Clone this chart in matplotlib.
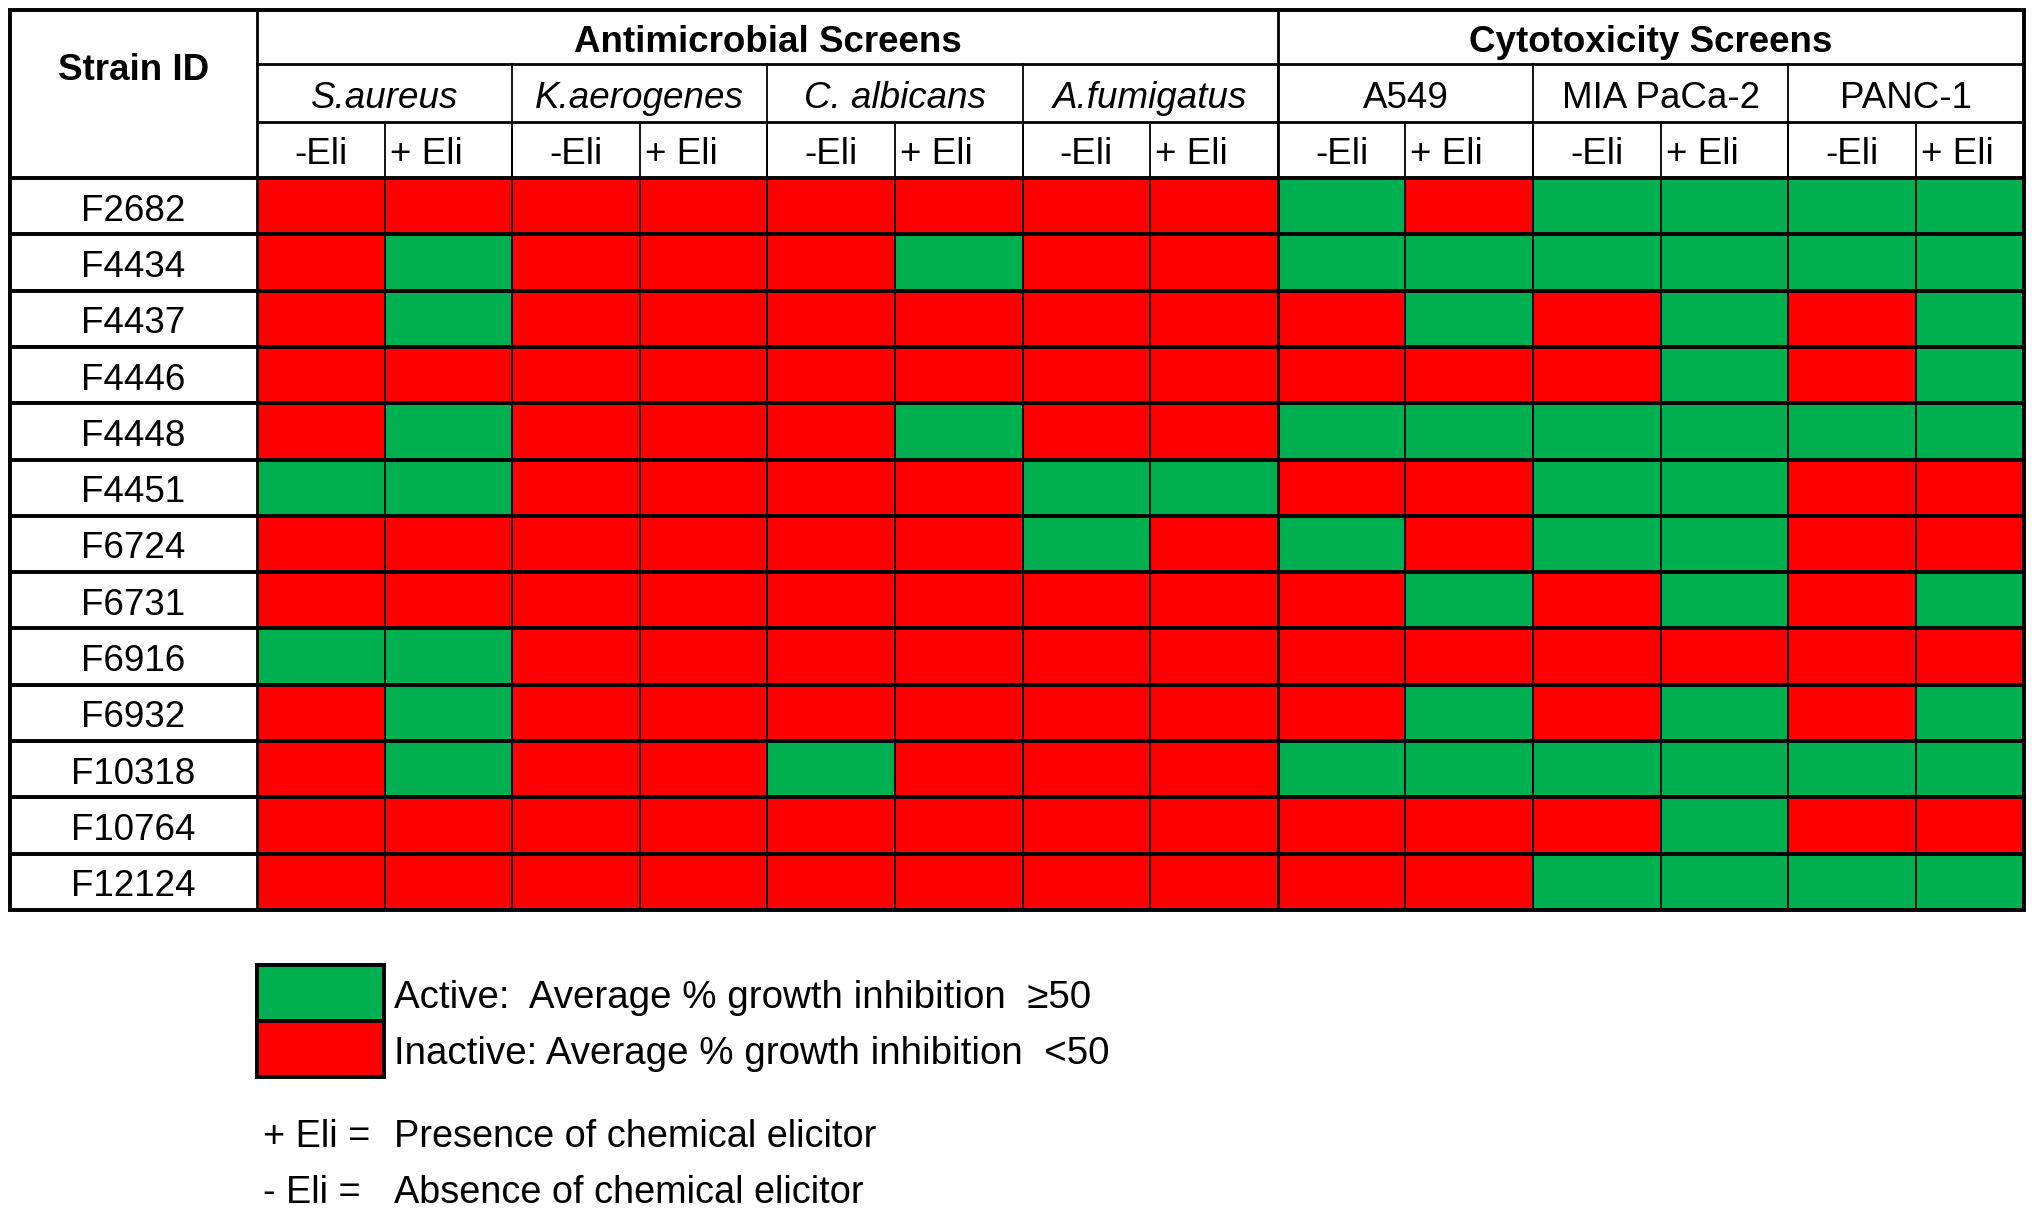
import matplotlib
matplotlib.use("Agg")
import matplotlib.pyplot as plt
from matplotlib.patches import Rectangle
import numpy as np

# ---------------- data ----------------
strains = ["F2682", "F4434", "F4437", "F4446", "F4448", "F4451", "F6724",
           "F6731", "F6916", "F6932", "F10318", "F10764", "F12124"]
groups = ["Antimicrobial Screens", "Cytotoxicity Screens"]
antimicrobial = ["S.aureus", "K.aerogenes", "C. albicans", "A.fumigatus"]
cytotoxicity = ["A549", "MIA PaCa-2", "PANC-1"]
conditions = ["-Eli", "+ Eli"]
# 1 = active (>=50 % inhibition), 0 = inactive
activity = [
    [0, 0, 0, 0, 0, 0, 0, 0, 1, 0, 1, 1, 1, 1],
    [0, 1, 0, 0, 0, 1, 0, 0, 1, 1, 1, 1, 1, 1],
    [0, 1, 0, 0, 0, 0, 0, 0, 0, 1, 0, 1, 0, 1],
    [0, 0, 0, 0, 0, 0, 0, 0, 0, 0, 0, 1, 0, 1],
    [0, 1, 0, 0, 0, 1, 0, 0, 1, 1, 1, 1, 1, 1],
    [1, 1, 0, 0, 0, 0, 1, 1, 0, 0, 1, 1, 0, 0],
    [0, 0, 0, 0, 0, 0, 1, 0, 1, 0, 1, 1, 0, 0],
    [0, 0, 0, 0, 0, 0, 0, 0, 0, 1, 0, 1, 0, 1],
    [1, 1, 0, 0, 0, 0, 0, 0, 0, 0, 0, 0, 0, 0],
    [0, 1, 0, 0, 0, 0, 0, 0, 0, 1, 0, 1, 0, 1],
    [0, 1, 0, 0, 1, 0, 0, 0, 1, 1, 1, 1, 1, 1],
    [0, 0, 0, 0, 0, 0, 0, 0, 0, 0, 0, 1, 0, 0],
    [0, 0, 0, 0, 0, 0, 0, 0, 0, 0, 1, 1, 1, 1],
]
legend_labels = ["Active:  Average % growth inhibition  \u226550",
                 "Inactive: Average % growth inhibition  <50"]
notes = [("+ Eli =", "Presence of chemical elicitor"),
         ("- Eli =", "Absence of chemical elicitor")]

GREEN = "#00B050"
RED = "#FF0000"

plt.rcParams['font.family'] = ['Liberation Sans Narrow', 'Liberation Sans', 'DejaVu Sans']

W, H = 2032, 1208
fig = plt.figure(figsize=(W / 100, H / 100), dpi=100)
ax = fig.add_axes([0, 0, 1, 1])
ax.set_xlim(0, W)
ax.set_ylim(H, 0)
ax.axis("off")

# ---------------- layout ----------------
x_left, x_strain, x_right = 10, 257, 2024
col_w = 127.6
ncols = len(activity[0])
col_edges = [x_strain + i * col_w for i in range(ncols)] + [x_right]
y_top, y_r1, y_r2, y_r3, y_bot = 10, 64, 122, 178, 910
nrows = len(strains)
row_h = (y_bot - y_r3) / nrows
row_edges = [y_r3 + i * row_h for i in range(nrows + 1)]

FS = 26.5
FS_LEG = 27.7
FS_NOTE = 27.3
DY = 5
thin, mid, thick = 1.3, 2.0, 2.8

# cells
for r in range(nrows):
    for c in range(ncols):
        ax.add_patch(Rectangle((col_edges[c], row_edges[r]),
                               col_edges[c + 1] - col_edges[c], row_h,
                               facecolor=GREEN if activity[r][c] else RED,
                               edgecolor="none"))
    ax.text((x_left + x_strain) / 2, (row_edges[r] + row_edges[r + 1]) / 2 + DY,
            strains[r], ha="center", va="center", fontsize=FS)

# vertical lines within data
for c in range(1, ncols):
    ax.plot([col_edges[c]] * 2, [y_r2, y_bot], color="black", lw=thin)
# species dividers (every 2 cols)
for c in range(2, ncols, 2):
    ax.plot([col_edges[c]] * 2, [y_r1, y_bot], color="black", lw=thin)
# group divider
n_am = 2 * len(antimicrobial)
ax.plot([col_edges[n_am]] * 2, [y_top, y_bot], color="black", lw=mid)
ax.plot([x_strain] * 2, [y_top, y_bot], color="black", lw=mid)
# header horizontal lines
ax.plot([x_strain, x_right], [y_r1, y_r1], color="black", lw=mid)
ax.plot([x_strain, x_right], [y_r2, y_r2], color="black", lw=mid)
ax.plot([x_left, x_right], [y_r3, y_r3], color="black", lw=thick)
for r in range(1, nrows):
    ax.plot([x_left, x_right], [row_edges[r]] * 2, color="black", lw=thick)
# outer border
ax.add_patch(Rectangle((x_left, y_top), x_right - x_left, y_bot - y_top,
                       facecolor="none", edgecolor="black", lw=thick))

# header texts
ax.text((x_left + x_strain) / 2, (y_top + y_r2) / 2 + DY, "Strain ID",
        ha="center", va="center", fontsize=FS, fontweight="bold")
ax.text((x_strain + col_edges[n_am]) / 2, (y_top + y_r1) / 2 + DY, groups[0],
        ha="center", va="center", fontsize=FS, fontweight="bold")
ax.text((col_edges[n_am] + x_right) / 2, (y_top + y_r1) / 2 + DY, groups[1],
        ha="center", va="center", fontsize=FS, fontweight="bold")
species = antimicrobial + cytotoxicity
for i, name in enumerate(species):
    xc = (col_edges[2 * i] + col_edges[2 * i + 2]) / 2
    ax.text(xc, (y_r1 + y_r2) / 2 + DY, name, ha="center", va="center",
            fontsize=FS, fontstyle="italic" if i < len(antimicrobial) else "normal")
for c in range(ncols):
    yc = (y_r2 + y_r3) / 2 + DY
    if c % 2 == 0:
        ax.text((col_edges[c] + col_edges[c + 1]) / 2, yc, conditions[0],
                ha="center", va="center", fontsize=FS)
    else:
        ax.text(col_edges[c] + 5, yc, conditions[1], ha="left", va="center",
                fontsize=FS)

# ---------------- legend ----------------
lx0, lx1 = 257, 384
ly = [965, 1021, 1077]
for i, col in enumerate([GREEN, RED]):
    ax.add_patch(Rectangle((lx0, ly[i]), lx1 - lx0, ly[i + 1] - ly[i],
                           facecolor=col, edgecolor="black", lw=thick))
    ax.text(394, (ly[i] + ly[i + 1]) / 2 + 5, legend_labels[i],
            ha="left", va="center", fontsize=FS_LEG)
for i, (k, v) in enumerate(notes):
    yy = 1137 + i * 56
    ax.text(263, yy, k, ha="left", va="center", fontsize=FS_NOTE)
    ax.text(394, yy, v, ha="left", va="center", fontsize=FS_NOTE)

fig.savefig("out.png", dpi=100, facecolor="white")
